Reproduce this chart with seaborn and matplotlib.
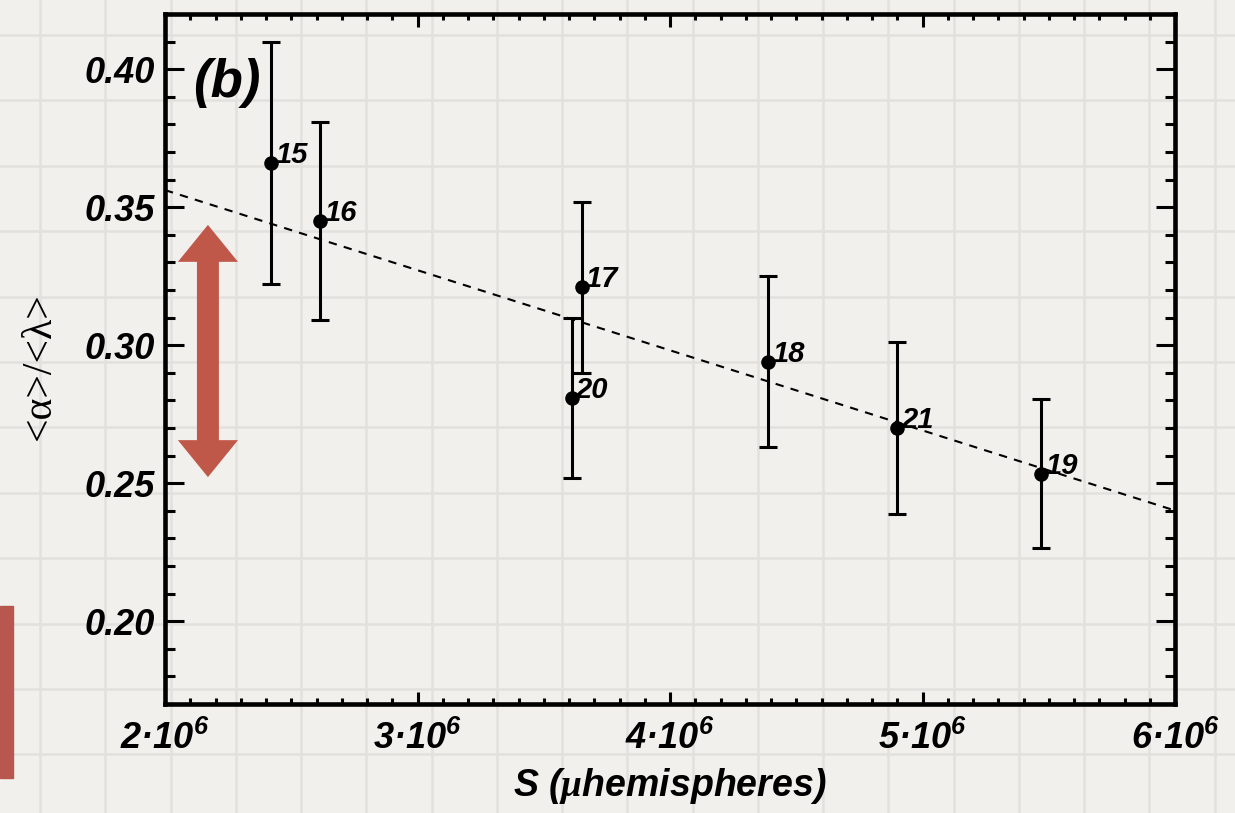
import numpy as np
import matplotlib
matplotlib.use('Agg')
import matplotlib.pyplot as plt
import seaborn as sns
from matplotlib.ticker import MultipleLocator, FixedLocator, FixedFormatter
from matplotlib.patches import Rectangle

# ------------------------------------------------------------
# Dados: ciclos solares, S (microhemisférios) e <alpha>/<lambda>
# ------------------------------------------------------------
ciclos = ['15', '16', '17', '18', '19', '20', '21']
area_s = [2.42e6, 2.615e6, 3.65e6, 4.39e6, 5.47e6, 3.61e6, 4.90e6]
razao = [0.366, 0.345, 0.321, 0.294, 0.2535, 0.281, 0.270]
erro = [0.044, 0.036, 0.031, 0.031, 0.027, 0.029, 0.031]

# reta ajustada (extremos)
ajuste_s = [2.0e6, 6.0e6]
ajuste_razao = [0.3562, 0.2401]

xticks = [2e6, 3e6, 4e6, 5e6, 6e6]
xtick_labels = ['2·10$^{6}$', '3·10$^{6}$', '4·10$^{6}$', '5·10$^{6}$', '6·10$^{6}$']
yticks = [0.20, 0.25, 0.30, 0.35, 0.40]
ytick_labels = ['0.20', '0.25', '0.30', '0.35', '0.40']

# ------------------------------------------------------------
# Estilo
# ------------------------------------------------------------
sns.set_style('ticks')
fonte = ['Liberation Sans Narrow', 'Liberation Sans', 'DejaVu Sans']
plt.rcParams['font.family'] = fonte
plt.rcParams['font.weight'] = 'bold'
plt.rcParams['font.style'] = 'italic'
plt.rcParams['text.color'] = 'black'
plt.rcParams['axes.labelcolor'] = 'black'
plt.rcParams['axes.labelweight'] = 'bold'
plt.rcParams['xtick.color'] = 'black'
plt.rcParams['ytick.color'] = 'black'
plt.rcParams['mathtext.fontset'] = 'custom'
plt.rcParams['mathtext.rm'] = 'Liberation Sans:bold:italic'
plt.rcParams['mathtext.it'] = 'Liberation Sans:bold:italic'
plt.rcParams['mathtext.bf'] = 'Liberation Sans:bold:italic'
plt.rcParams['mathtext.sf'] = 'Liberation Serif'

fundo = '#f1f0ed'
fig = plt.figure(figsize=(12.35, 8.13), dpi=100)
fig.patch.set_facecolor(fundo)

# papel quadriculado no fundo
bg = fig.add_axes([0, 0, 1, 1], zorder=-5)
bg.set_xlim(0, 1235)
bg.set_ylim(813, 0)
bg.set_facecolor(fundo)
for x in np.arange(40, 1235, 65.25):
    bg.axvline(x, color='#e2e1de', lw=1.8)
for y in np.arange(35, 813, 65.4):
    bg.axhline(y, color='#e2e1de', lw=1.8)
bg.axis('off')
fig.add_artist(Rectangle((0, 1 - 778 / 813), 13 / 1235, 172 / 813,
                         transform=fig.transFigure, color='#b8574d', zorder=-4))

ax = fig.add_axes([165 / 1235, 1 - 704 / 813, 1010 / 1235, 690 / 813])
ax.set_facecolor('none')

# ------------------------------------------------------------
# Gráfico
# ------------------------------------------------------------
sns.lineplot(x=ajuste_s, y=ajuste_razao, ax=ax, color='black', lw=1.5,
             linestyle=(0, (4, 3.5)), zorder=2)
ax.errorbar(area_s, razao, yerr=erro, fmt='none', ecolor='black',
            elinewidth=2.2, capsize=6.5, capthick=2.2, zorder=3)
sns.scatterplot(x=area_s, y=razao, ax=ax, color='black', s=110,
                edgecolor='black', linewidth=0, zorder=4)
for c, xs, ys in zip(ciclos, area_s, razao):
    ax.annotate(c, (xs, ys), xytext=(3, 0), textcoords='offset points',
                ha='left', va='baseline', fontsize=21)

# seta vermelha dupla
meio = 0.2979
for d in (0.0457, -0.0457):
    ax.arrow(2.17e6, meio, 0, d, width=0.087e6, head_width=0.238e6,
             head_length=0.0134, length_includes_head=True,
             color='#c0584a', lw=0, zorder=1)

ax.text(0.028, 0.88, '(b)', transform=ax.transAxes, fontsize=38,
        family=['Liberation Sans', 'DejaVu Sans'], va='baseline')

# ------------------------------------------------------------
# Eixos
# ------------------------------------------------------------
ax.set_xlim(2e6, 6e6)
ax.set_ylim(0.17, 0.42)
ax.xaxis.set_major_locator(FixedLocator(xticks))
ax.xaxis.set_major_formatter(FixedFormatter(xtick_labels))
ax.yaxis.set_major_locator(FixedLocator(yticks))
ax.yaxis.set_major_formatter(FixedFormatter(ytick_labels))
ax.xaxis.set_minor_locator(MultipleLocator(1e5))
ax.yaxis.set_minor_locator(MultipleLocator(0.01))

for s in ax.spines.values():
    s.set_visible(True)
    s.set_linewidth(3.3)
    s.set_color('black')

ax.tick_params(which='both', direction='in', top=True, right=True,
               width=2.2, color='black', labelsize=26)
ax.tick_params(axis='y', which='major', length=14, pad=7)
ax.tick_params(axis='y', which='minor', length=7)
ax.tick_params(axis='x', which='major', length=9, pad=12)
ax.tick_params(axis='x', which='minor', length=4.5)

ax.set_xlabel(r'S ($\mathsf{\mu}$hemispheres)', fontsize=27, fontweight='bold')
ax.xaxis.set_label_coords(0.5, -0.09)
ax.set_ylabel('<α>/<λ>', fontsize=30, family=['Liberation Serif', 'DejaVu Serif'],
              fontweight='normal', fontstyle='normal')
ax.yaxis.set_label_coords(-0.105, 0.49)

plt.savefig('out.png', dpi=100, facecolor=fundo)
